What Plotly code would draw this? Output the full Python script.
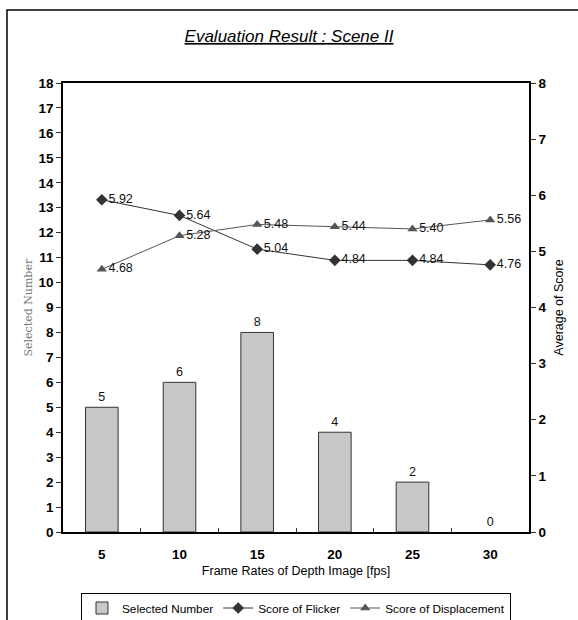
import plotly.graph_objects as go

categories = ["5", "10", "15", "20", "25", "30"]
selected_number = [5, 6, 8, 4, 2, 0]
score_flicker = [5.92, 5.64, 5.04, 4.84, 4.84, 4.76]
score_displacement = [4.68, 5.28, 5.48, 5.44, 5.40, 5.56]

W, H = 578, 620
ML, MR, MT, MB = 63, 49, 83, 88
PW, PH = W - ML - MR, H - MT - MB

fig = go.Figure()
fig.add_trace(go.Bar(
    x=categories, y=selected_number, name="Selected Number",
    marker=dict(color="#c8c8c8",
                line=dict(color="#333333", width=[1 if v > 0 else 0 for v in selected_number])),
    text=[str(v) for v in selected_number], textposition="outside",
    textfont=dict(family="Arial", size=12.5, color="#111111"),
    cliponaxis=False, yaxis="y",
))
fig.add_trace(go.Scatter(
    x=categories, y=score_flicker, name="Score of Flicker", yaxis="y2",
    mode="lines+markers+text",
    line=dict(color="#333333", width=1),
    marker=dict(symbol="diamond", size=9, color="#333333"),
    text=[f"{v:.2f}" for v in score_flicker], textposition="middle right",
    textfont=dict(family="Arial", size=12.5, color="#111111"),
    cliponaxis=False,
))
fig.add_trace(go.Scatter(
    x=categories, y=score_displacement, name="Score of Displacement", yaxis="y2",
    mode="lines+markers+text",
    line=dict(color="#555555", width=1),
    marker=dict(symbol="triangle-up", size=9, color="#555555"),
    text=[f"{v:.2f}" for v in score_displacement], textposition="middle right",
    textfont=dict(family="Arial", size=12.5, color="#111111"),
    cliponaxis=False,
))

def px_x(p):
    return (p - ML) / PW

def px_y(p):
    return (H - MB - p) / PH

fig.update_layout(
    width=W, height=H,
    margin=dict(l=ML, r=MR, t=MT, b=MB, autoexpand=False),
    paper_bgcolor="white", plot_bgcolor="white",
    font=dict(family="Arial", color="#000000"),
    title=dict(text="<u><i>Evaluation Result : Scene II</i></u>",
               x=0.5, xanchor="center", y=1 - 36 / H, yanchor="middle",
               font=dict(family="Arial", size=17, color="#000000")),
    bargap=0.58,
    showlegend=True,
    legend=dict(orientation="h", x=0.5, xanchor="center", y=px_y(608), yanchor="middle",
                xref="paper", yref="paper",
                bordercolor="#000000", borderwidth=1,
                font=dict(family="Arial", size=11.8, color="#000000"),
                itemwidth=30, tracegroupgap=0, itemsizing="trace"),
    xaxis=dict(
        type="category", tickson="boundaries", ticks="inside", ticklen=4,
        tickcolor="#333333", showline=True, linecolor="#000000", linewidth=1.5,
        mirror=True, showgrid=False, ticklabelstandoff=9,
        tickfont=dict(family="Arial", size=13.5, color="#000000", weight="bold"),
        title=dict(text="Frame Rates of Depth Image [fps]",
                   font=dict(family="Arial", size=12.5, color="#000000"), standoff=5),
    ),
    yaxis=dict(
        range=[0, 18], dtick=1, ticks="outside", ticklen=5, tickcolor="#333333",
        showline=True, linecolor="#000000", linewidth=1.5, showgrid=False, zeroline=False,
        tickfont=dict(family="Arial", size=13.5, color="#000000", weight="bold"),
    ),
    yaxis2=dict(
        range=[0, 8], dtick=1, overlaying="y", side="right", ticks="outside", ticklen=5,
        tickcolor="#333333", showline=True, linecolor="#000000", linewidth=1.5,
        showgrid=False, zeroline=False,
        tickfont=dict(family="Arial", size=13.5, color="#000000", weight="bold"),
        title=dict(text="Average of Score",
                   font=dict(family="Arial", size=12.5, color="#000000"), standoff=9),
    ),
    annotations=[dict(text="Selected Number", xref="paper", yref="paper",
                      x=px_x(28), y=0.5, xanchor="center", yanchor="middle",
                      textangle=-90, showarrow=False,
                      font=dict(family="DejaVu Serif", size=11, color="#777777"))],
    shapes=[dict(type="rect", xref="paper", yref="paper",
                 x0=px_x(7), x1=px_x(W + 10), y0=px_y(H + 10), y1=px_y(10),
                 line=dict(color="#000000", width=1.5), fillcolor="rgba(0,0,0,0)",
                 layer="below")],
)

fig.write_html("out.html", config={"displayModeBar": False},
               post_script="document.body.style.margin='0';document.body.style.overflow='hidden';")
